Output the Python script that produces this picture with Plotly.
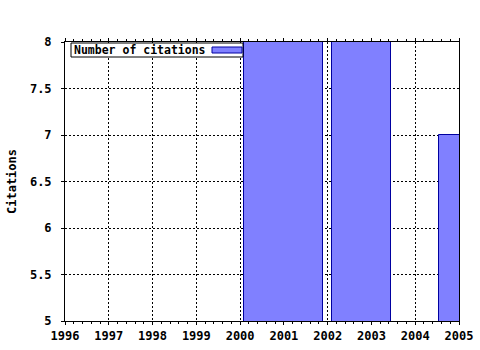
import plotly.graph_objects as go

# Data (values above 8 and the 2004 value are clipped in the reference; estimated)
years = [2001, 2003, 2004, 2005]
citations = [10, 11, 3, 7]
series_name = "Number of citations"
x_ticks = list(range(1996, 2006))
y_ticks = [5, 5.5, 6, 6.5, 7, 7.5, 8]
y_tick_labels = ["5", "5.5", "6", "6.5", "7", "7.5", "8"]

# gnuplot-style automatic box widths (half distance to neighbours, 0.9 relative)
rel = 0.9
lefts, rights = [], []
for i, x in enumerate(years):
    left_gap = (x - years[i - 1]) if i > 0 else (years[i + 1] - x)
    right_gap = (years[i + 1] - x) if i < len(years) - 1 else (x - years[i - 1])
    lefts.append(rel * left_gap / 2)
    rights.append(rel * right_gap / 2)
widths = [l + r for l, r in zip(lefts, rights)]
offsets = [-l for l in lefts]

FONT = "DejaVu Sans Mono"
FILL = "#8080ff"
EDGE = "#0000a0"
FS = 12

fig = go.Figure()
fig.add_trace(go.Bar(
    x=years, y=citations, width=widths, offset=offsets,
    marker=dict(color=FILL, line=dict(color=EDGE, width=1)),
    name=series_name, showlegend=False,
))

W, H = 480, 350
L, R, T, B = 65, 21, 42, 29
pw, ph = W - L - R, H - T - B

def px(x):
    return (x - L) / pw

def py(y):
    return 1 - (y - T) / ph

fig.update_layout(
    width=W, height=H,
    margin=dict(l=L, r=R, t=T, b=B, pad=0, autoexpand=False),
    paper_bgcolor="white", plot_bgcolor="white",
    font=dict(family=FONT, size=FS, color="black", weight="bold"),
    bargap=0,
    xaxis=dict(
        range=[1996, 2005], tickvals=x_ticks, ticktext=[str(v) for v in x_ticks],
        showline=True, linecolor="black", linewidth=1, mirror="allticks",
        ticks="outside", ticklen=3, tickcolor="black",
        showgrid=True, gridcolor="black", griddash="2px,2px", gridwidth=1,
        minor=dict(dtick=0.2, ticks="outside", ticklen=2, tickcolor="black", showgrid=False),
        zeroline=False, automargin=False, ticklabelstandoff=1,
        tickfont=dict(family=FONT, size=FS, weight="bold"),
    ),
    yaxis=dict(
        range=[5, 8], tickvals=y_ticks, ticktext=y_tick_labels,
        showline=True, linecolor="black", linewidth=1, mirror=True,
        ticks="outside", ticklen=3, tickcolor="black",
        showgrid=True, gridcolor="black", griddash="2px,2px", gridwidth=1,
        zeroline=False, automargin=False, ticklabelstandoff=7,
        title=dict(text="Citations", standoff=10, font=dict(family=FONT, size=FS, weight="bold")),
        tickfont=dict(family=FONT, size=FS, weight="bold"),
    ),
)

# Legend box (gnuplot style: text then sample)
fig.add_shape(type="rect", xref="paper", yref="paper",
              x0=px(71), x1=px(243), y0=py(57), y1=py(43),
              line=dict(color="black", width=1), fillcolor="white", layer="above")
fig.add_shape(type="rect", xref="paper", yref="paper",
              x0=px(212), x1=px(242), y0=py(53), y1=py(47),
              line=dict(color=EDGE, width=1), fillcolor=FILL, layer="above")
fig.add_annotation(xref="paper", yref="paper", x=px(72), y=py(50),
                   xanchor="left", yanchor="middle", showarrow=False,
                   text=series_name,
                   font=dict(family=FONT, size=11.5, weight="bold", color="black"))

fig.write_html("out.html")
